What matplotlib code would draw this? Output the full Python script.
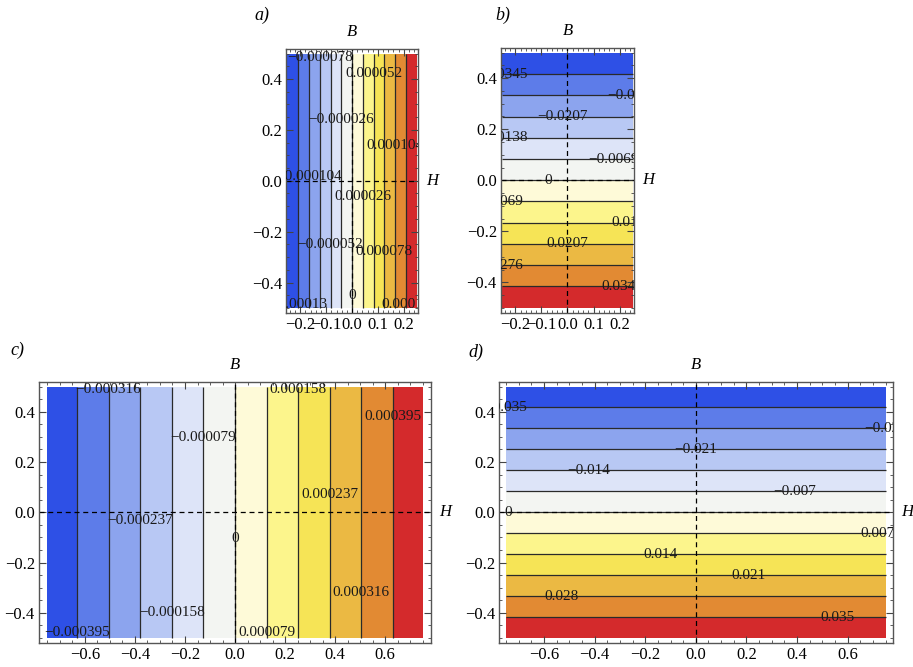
import numpy as np
import matplotlib
matplotlib.use("Agg")
import matplotlib.pyplot as plt
from matplotlib.ticker import MultipleLocator

plt.rcParams['font.family'] = ['Liberation Serif', 'DejaVu Serif']
plt.rcParams['axes.unicode_minus'] = True

# band colours, blue -> red (12 bands between 11 contour lines)
band_colors = ['#2e50e6', '#5d7ce9', '#8ca4ee', '#b8c8f4', '#dde4f8', '#f3f5f2',
               '#fefad8', '#fcf58c', '#f6e456', '#ebb943', '#e28a33', '#d42a2c']

# panel a: field varies with H, H in [-0.25, 0.25]
a_levels = [-0.00013, -0.000104, -0.000078, -0.000052, -0.000026, 0,
            0.000026, 0.000052, 0.000078, 0.000104, 0.00013]
a_slope = 0.000625
a_label_B = [-0.486, 0.016, 0.486, -0.25, 0.24, -0.45, -0.06, 0.42, -0.28, 0.14, -0.486]

# panel b: field varies with B, H in [-0.25, 0.25]
b_levels = [-0.0345, -0.0276, -0.0207, -0.0138, -0.0069, 0,
            0.0069, 0.0138, 0.0207, 0.0276, 0.0345]
b_slope = -0.0830
b_label_H = [-0.25, 0.25, -0.02, -0.25, 0.175, -0.075, -0.25, 0.25, 0.0, -0.25, 0.21]

# panel c: field varies with H, H in [-0.75, 0.75]
c_levels = [-0.000395, -0.000316, -0.000237, -0.000158, -0.000079, 0,
            0.000079, 0.000158, 0.000237, 0.000316, 0.000395]
c_slope = 0.000625
c_label_B = [-0.48, 0.487, -0.033, -0.40, 0.296, -0.105, -0.48, 0.487, 0.07, -0.32, 0.38]

# panel d: field varies with B, H in [-0.75, 0.75]
d_levels = [-0.035, -0.028, -0.021, -0.014, -0.007, 0,
            0.007, 0.014, 0.021, 0.028, 0.035]
d_slope = -0.0840
d_label_H = [-0.75, 0.75, 0.0, -0.425, 0.39, -0.74, 0.72, -0.14, 0.21, -0.53, 0.56]


def fmt(v):
    if v == 0:
        return '0'
    s = ('%.6f' % abs(v)).rstrip('0')
    return ('\u2212' if v < 0 else '') + s


def fmt_tick(v):
    v = round(v, 2)
    s = '%.1f' % abs(v)
    return ('\u2212' if v < 0 else '') + s


def panel(rect, hmax, levels, slope, along_H, label_pos, xmajor, xminor, xlim):
    ax = fig.add_axes(rect)
    H = np.linspace(-hmax, hmax, 200)
    B = np.linspace(-0.5, 0.5, 200)
    HH, BB = np.meshgrid(H, B)
    Z = slope * HH if along_H else slope * BB
    bounds = [Z.min() - 1] + list(levels) + [Z.max() + 1]
    ax.contourf(HH, BB, Z, levels=bounds, colors=band_colors)
    ax.contour(HH, BB, Z, levels=levels, colors='#2a2a2a', linewidths=0.9,
               linestyles='solid')
    ax.axhline(0, color='k', ls=(0, (4, 3)), lw=0.9)
    ax.axvline(0, color='k', ls=(0, (4, 3)), lw=0.9)

    for lev, p in zip(levels, label_pos):
        if along_H:
            x, y = lev / slope, p
        else:
            x, y = p, lev / slope
        ax.text(x, y, fmt(lev), ha='center', va='center', fontsize=11,
                color='#1a1a1a', clip_on=True)

    ax.set_xlim(*xlim)
    ax.set_ylim(-0.52, 0.518)
    ax.xaxis.set_major_locator(MultipleLocator(xmajor))
    ax.xaxis.set_minor_locator(MultipleLocator(xminor))
    ax.yaxis.set_major_locator(MultipleLocator(0.2))
    ax.yaxis.set_minor_locator(MultipleLocator(0.05))
    ax.xaxis.set_major_formatter(lambda v, pos: fmt_tick(v))
    ax.yaxis.set_major_formatter(lambda v, pos: fmt_tick(v))
    ax.tick_params(which='both', direction='in', top=True, right=True,
                   labelsize=12, pad=3, color='#444444')
    ax.tick_params(which='major', length=5)
    ax.tick_params(which='minor', length=2.5)
    for s in ax.spines.values():
        s.set_color('#555555')
        s.set_linewidth(1.0)

    ax.annotate('B', xy=(0, 1), xycoords=ax.get_xaxis_transform(),
                xytext=(0, 12), textcoords='offset points',
                ha='center', va='center', fontsize=12, style='italic')
    ax.annotate('H', xy=(1, 0), xycoords=ax.get_yaxis_transform(),
                xytext=(10, 0), textcoords='offset points',
                ha='center', va='center', fontsize=12, style='italic')
    return ax


fig = plt.figure(figsize=(9.13, 6.67), dpi=100)

panel([0.3133, 0.5307, 0.1446, 0.3958], 0.25, a_levels, a_slope, True,
      a_label_B, 0.1, 0.02, (-0.255, 0.255))
panel([0.5487, 0.5307, 0.1457, 0.3973], 0.25, b_levels, b_slope, False,
      b_label_H, 0.1, 0.02, (-0.255, 0.255))
panel([0.0427, 0.036, 0.4294, 0.3913], 0.75, c_levels, c_slope, True,
      c_label_B, 0.2, 0.05, (-0.784, 0.784))
panel([0.5466, 0.036, 0.4316, 0.3913], 0.75, d_levels, d_slope, False,
      d_label_H, 0.2, 0.05, (-0.778, 0.78))

fig.text(262 / 913, 1 - 15 / 667, 'a)', fontsize=13, style='italic', ha='center', va='center')
fig.text(503 / 913, 1 - 15 / 667, 'b)', fontsize=13, style='italic', ha='center', va='center')
fig.text(17 / 913, 1 - 350 / 667, 'c)', fontsize=13, style='italic', ha='center', va='center')
fig.text(476 / 913, 1 - 352 / 667, 'd)', fontsize=13, style='italic', ha='center', va='center')

fig.savefig('out.png', dpi=100)
